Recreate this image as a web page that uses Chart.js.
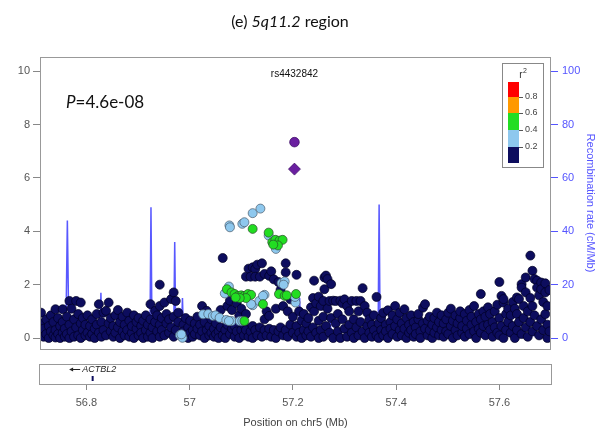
<!DOCTYPE html>
<html>
<head>
<meta charset="utf-8">
<script src="https://cdn.jsdelivr.net/npm/chart.js@4"></script>
<style>
  body { margin: 0; background: #fff; }
  canvas { display: block; }
</style>
</head>
<body>
<canvas id="main" width="601" height="360"></canvas>
<canvas id="genes" width="601" height="82"></canvas>
<script>
// axis ranges and ticks
const xRange = [56.71, 57.70];
const xTicks = [56.8, 57.0, 57.2, 57.4, 57.6];
const pRange = [-0.41, 10.53];
const pTicks = [0, 2, 4, 6, 8, 10];
const recombRange = [-4.1, 105.3];
const recombTicks = [0, 20, 40, 60, 80, 100];

// recombination rate (cM/Mb)
const recombPos = [56.710, 56.760, 56.763, 56.766, 56.826, 56.828, 56.830, 56.923, 56.925, 56.927,
  56.969, 56.971, 56.973, 56.984, 56.986, 56.988, 57.050, 57.110, 57.112, 57.114, 57.121, 57.122,
  57.124, 57.160, 57.211, 57.213, 57.215, 57.270, 57.272, 57.274, 57.347, 57.349, 57.351, 57.365,
  57.367, 57.369, 57.450, 57.550, 57.700];
const recombRate = [0.5, 0.8, 44, 0.8, 1, 17, 1, 1, 49, 1,
  1.5, 36, 2, 2, 15, 1, 0.5, 0.8, 4, 1, 1, 6,
  1, 0.6, 1, 15, 0.6, 0.5, 9, 0.5, 0.5, 10, 0.5, 0.5,
  50, 0.5, 0.8, 1, 1];

// SNPs with r2 < 0.2 : [position, -log10 p ...]
const navyCols = [
  [56.712, 0.95, 0.55, 0.2], [56.717, 0.35, 0.05], [56.722, 0.7, 0.15], [56.727, 0.45, 0.0],
  [56.731, 0.85, 0.25], [56.736, 0.6, 0.1], [56.740, 1.08, 0.3, 0.02], [56.745, 0.75, 0.15],
  [56.749, 0.45, 0.0], [56.754, 1.08, 0.6, 0.2], [56.758, 0.35, 0.05], [56.762, 0.8, 0.15],
  [56.767, 1.39, 0.5, 0.0], [56.771, 1.1, 0.25], [56.776, 0.7, 0.05], [56.780, 1.39, 0.4],
  [56.784, 0.9, 0.1], [56.789, 1.33, 0.55, 0.0], [56.793, 0.3, 0.75], [56.798, 0.1, 0.5],
  [56.802, 0.85, 0.2], [56.807, 0.05, 0.45], [56.811, 0.7, 0.15], [56.816, 0.35, 0.0],
  [56.820, 0.9, 0.5], [56.824, 1.27, 0.2], [56.829, 0.6, 0.05], [56.833, 0.95, 0.3],
  [56.838, 1.02, 0.1], [56.843, 1.33, 0.55], [56.847, 0.25, 0.75], [56.852, 0.05, 0.45],
  [56.856, 0.85, 0.2], [56.861, 1.05, 0.4], [56.865, 0.6, 0.0], [56.870, 0.25, 0.8],
  [56.874, 0.5, 0.1], [56.879, 0.95, 0.3], [56.883, 0.65, 0.05], [56.888, 0.2, 0.45],
  [56.892, 0.85, 0.0], [56.897, 0.35, 0.6], [56.901, 0.1, 0.75], [56.906, 0.45, 0.2],
  [56.910, 0.65, 0.0], [56.915, 0.3, 0.85], [56.919, 0.05, 0.5], [56.924, 1.27, 0.7, 0.2],
  [56.928, 0.4, 0.0], [56.933, 1.02, 0.6], [56.937, 0.25, 0.85], [56.942, 2.0, 1.2, 0.5, 0.05],
  [56.946, 0.75, 0.3], [56.951, 1.33, 0.1], [56.955, 0.9, 0.55], [56.960, 0.2, 0.7],
  [56.964, 1.46, 0.4], [56.969, 1.71, 0.05, 0.8], [56.973, 1.39, 0.3], [56.978, 0.95, 0.6],
  [56.988, 0.5, 0.25], [56.992, 0.75, 0.1], [56.997, 0.4, 0.0], [57.001, 0.65, 0.2],
  [57.006, 0.3, 0.05], [57.010, 0.55, 0.15], [57.015, 0.8, 0.35], [57.020, 0.1, 0.5],
  [57.024, 1.2, 0.25], [57.029, 0.0, 0.6], [57.033, 1.02, 0.3], [57.038, 0.1, 0.45],
  [57.042, 0.7, 0.2], [57.047, 0.05, 0.35], [57.051, 0.55, 0.15], [57.056, 0.25, 0.0],
  [57.060, 1.05, 0.4], [57.064, 3.0, 0.1], [57.069, 0.3, 0.0], [57.073, 1.2, 0.5],
  [57.078, 0.15, 1.4], [57.082, 0.35, 1.05], [57.087, 0.05, 0.45], [57.091, 0.25, 1.3],
  [57.096, 0.0, 0.85], [57.100, 0.3, 1.1], [57.105, 0.1, 0.5], [57.109, 0.3, 2.3, 0.9],
  [57.114, 0.05, 2.6], [57.118, 0.25, 2.3], [57.122, 2.65, 0.0, 0.45], [57.127, 2.59, 2.3, 0.3],
  [57.131, 2.75, 0.1], [57.136, 2.3, 0.4], [57.140, 2.8, 0.05], [57.145, 2.4, 0.3, 0.7],
  [57.149, 1.0, 0.1], [57.154, 2.33, 0.35, 0.83], [57.158, 2.5, 0.05], [57.163, 2.2, 0.3],
  [57.167, 1.1, 0.0], [57.172, 2.1, 0.25], [57.176, 1.8, 0.4], [57.181, 1.2, 0.1],
  [57.186, 2.8, 2.46, 0.3], [57.190, 1.0, 0.05], [57.195, 1.45, 0.5], [57.200, 0.2, 0.8],
  [57.207, 2.37, 0.05, 0.45], [57.212, 1.0, 0.2], [57.217, 0.65, 0.0], [57.221, 0.3, 0.9],
  [57.226, 0.1, 0.55], [57.230, 0.75, 0.25], [57.235, 1.15, 0.05], [57.239, 1.5, 0.4],
  [57.241, 2.15, 1.0], [57.245, 0.2, 1.3], [57.250, 1.55, 0.65, 0.0], [57.254, 1.2, 0.3],
  [57.259, 1.39, 0.8, 0.05], [57.261, 1.83, 2.27], [57.264, 2.34, 0.45], [57.267, 2.21, 1.1],
  [57.271, 1.39, 0.2], [57.274, 2.02, 0.75], [57.278, 1.4, 0.0], [57.283, 1.39, 0.55],
  [57.287, 0.9, 0.25], [57.292, 1.4, 0.0], [57.296, 1.3, 0.7], [57.300, 1.45, 0.35],
  [57.305, 1.2, 0.05], [57.309, 1.0, 0.5], [57.314, 1.39, 0.2], [57.318, 0.7, 0.0],
  [57.323, 1.39, 0.4], [57.327, 1.0, 0.1], [57.331, 1.39, 0.6], [57.335, 1.87, 0.25],
  [57.339, 1.2, 0.0], [57.344, 0.95, 0.45], [57.348, 0.2, 0.7], [57.353, 0.05, 0.5],
  [57.357, 0.85, 0.3], [57.362, 1.54, 0.1], [57.366, 0.55, 0.0], [57.371, 0.3, 0.75],
  [57.375, 0.95, 0.1], [57.380, 0.5, 0.25], [57.384, 1.04, 0.0], [57.389, 0.6, 0.35],
  [57.393, 0.85, 0.15], [57.398, 1.2, 0.45], [57.402, 0.05, 0.7], [57.407, 0.3, 0.95],
  [57.411, 0.55, 0.1], [57.416, 1.08, 0.35], [57.420, 0.75, 0.0], [57.425, 0.2, 0.5],
  [57.429, 0.85, 0.3], [57.434, 0.05, 0.6], [57.438, 0.4, 0.15], [57.443, 0.7, 0.9],
  [57.447, 0.25, 0.0], [57.452, 0.55, 1.14], [57.456, 1.27, 0.35], [57.461, 0.1, 0.65],
  [57.465, 0.8, 0.3], [57.470, 0.5, 0.0], [57.474, 0.2, 0.75], [57.479, 0.95, 0.4],
  [57.483, 0.1, 0.6], [57.488, 0.3, 0.85], [57.492, 0.55, 0.05], [57.497, 0.7, 0.25],
  [57.501, 0.15, 0.95], [57.506, 0.45, 1.1], [57.510, 0.0, 0.65], [57.515, 0.3, 0.85],
  [57.519, 0.55, 0.1], [57.524, 0.75, 1.0], [57.528, 0.2, 0.45], [57.533, 0.9, 0.05],
  [57.537, 0.35, 0.65], [57.542, 1.05, 0.15], [57.546, 0.5, 0.8], [57.551, 0.25, 1.2],
  [57.555, 0.6, 0.0], [57.560, 0.9, 0.35], [57.564, 1.65, 0.2, 0.7], [57.569, 0.45, 1.0],
  [57.573, 0.1, 0.8], [57.578, 1.15, 0.5], [57.582, 0.3, 0.9], [57.587, 0.6, 0.05],
  [57.591, 1.0, 0.4], [57.596, 0.2, 1.25], [57.600, 2.1, 0.75, 0.1], [57.604, 1.58, 0.45],
  [57.608, 1.33, 1.46, 0.0], [57.613, 0.9, 0.3], [57.617, 1.1, 0.6], [57.622, 0.2, 0.85],
  [57.626, 1.35, 0.45], [57.630, 1.1, 0.0], [57.634, 1.52, 0.9, 0.3], [57.638, 1.46, 0.6],
  [57.643, 2.02, 1.89, 0.15], [57.647, 1.2, 0.75], [57.651, 2.27, 1.71, 0.4], [57.655, 1.0, 0.05],
  [57.660, 3.09, 1.5, 0.6], [57.664, 2.52, 1.2, 0.25], [57.668, 2.21, 0.85], [57.673, 2.15, 1.89, 0.45],
  [57.677, 1.6, 0.1], [57.681, 2.08, 1.83, 0.7], [57.685, 1.35, 0.3], [57.689, 2.05, 1.71, 0.9],
  [57.693, 1.2, 0.5, 0.0], [57.697, 1.8, 0.25]
];

// r2 0.2-0.4
const skyPts = [
  [57.077, 4.22], [57.078, 4.15], [57.102, 4.28], [57.106, 4.34], [57.122, 4.68], [57.137, 4.85],
  [57.153, 3.84], [57.167, 3.34], [57.068, 1.67], [57.076, 1.93], [57.122, 1.23], [57.135, 1.39],
  [57.145, 1.62], [57.142, 1.58], [57.178, 2.06], [57.184, 2.12], [57.182, 2.0], [57.205, 1.33],
  [57.204, 1.54], [57.026, 0.89], [57.036, 0.9], [57.045, 0.83], [57.050, 0.85], [57.058, 0.76],
  [57.071, 0.68], [57.081, 0.64], [57.097, 0.64], [57.102, 0.64], [56.981, 0.11], [56.986, 0.01],
  [56.984, 0.14], [57.119, 1.27], [57.076, 0.64]
];

// r2 0.4-0.6
const greenPts = [
  [57.122, 4.09], [57.153, 3.95], [57.160, 3.59], [57.166, 3.68], [57.174, 3.65], [57.180, 3.68],
  [57.171, 3.47], [57.162, 3.50], [57.072, 1.83], [57.081, 1.71], [57.087, 1.65], [57.094, 1.58],
  [57.100, 1.60], [57.106, 1.58], [57.113, 1.65], [57.119, 1.62], [57.109, 1.50], [57.097, 1.50],
  [57.089, 1.52], [57.142, 1.27], [57.106, 0.64], [57.173, 1.65], [57.184, 1.58], [57.188, 1.60],
  [57.206, 1.65]
];

// reference SNP rs4432842
const leadCircle = [[57.203, 7.34]];
const leadDiamond = [[57.203, 6.33]];
const leadName = 'rs4432842';
const pLabel = '4.6e-08';

// r2 legend
const r2Colors = ['#ff0000', '#ff9900', '#22dd22', '#8ec8ee', '#0d0d5e'];
const r2Labels = ['0.8', '0.6', '0.4', '0.2'];

// gene track
const geneName = 'ACTBL2';
const genePos = 56.812;

const toXY = arr => arr.map(p => ({ x: p[0], y: p[1] }));
const navyPts = navyCols.flatMap(c => c.slice(1).map(y => ({ x: c[0], y: y })));
const recombData = recombPos.map((x, i) => ({ x: x, y: recombRate[i] }));

const axisFont = { family: 'Liberation Sans', size: 11 };
const blue = '#5555ff';

function setTicks(values) {
  return scale => { scale.ticks = values.map(v => ({ value: v })); };
}

const mainDecor = {
  id: 'mainDecor',
  afterDraw(chart) {
    const ctx = chart.ctx;
    const a = chart.chartArea;
    const xs = chart.scales.x, ys = chart.scales.y;
    ctx.save();
    ctx.strokeStyle = '#999';
    ctx.lineWidth = 1;
    ctx.strokeRect(a.left + 0.5, a.top + 0.5, a.right - a.left - 1, a.bottom - a.top);

    // title with italic band name
    ctx.fillStyle = '#111';
    ctx.textBaseline = 'middle';
    const parts = [['(e) ', '16px Lato'], ['5q11.2', 'italic 16px Lato'], [' region', '16px Lato']];
    let w = 0;
    parts.forEach(p => { ctx.font = p[1]; w += ctx.measureText(p[0]).width; });
    let tx = 290 - w / 2;
    parts.forEach(p => { ctx.font = p[1]; ctx.fillText(p[0], tx, 22); tx += ctx.measureText(p[0]).width; });

    // P value
    ctx.font = 'italic 17px Lato';
    ctx.fillText('P', 66, 103);
    const pw = ctx.measureText('P').width;
    ctx.font = '17px Lato';
    ctx.fillText('=' + pLabel, 66 + pw, 103);

    // lead SNP name
    ctx.font = '10px Liberation Sans';
    ctx.textAlign = 'center';
    ctx.fillText(leadName, xs.getPixelForValue(leadCircle[0][0]), ys.getPixelForValue(9.87));

    // r2 legend
    ctx.fillStyle = '#fff';
    ctx.fillRect(502, 63, 41, 104);
    ctx.strokeStyle = '#888';
    ctx.strokeRect(502.5, 63.5, 41, 104);
    ctx.fillStyle = '#333';
    ctx.font = '10px Liberation Sans';
    ctx.fillText('r', 521, 75);
    ctx.font = '7px Liberation Sans';
    ctx.fillText('2', 525, 71);
    const edges = [82, 97, 113, 130, 147, 163];
    r2Colors.forEach((c, i) => {
      ctx.fillStyle = c;
      ctx.fillRect(508, edges[i], 11, edges[i + 1] - edges[i]);
    });
    ctx.strokeStyle = '#555';
    ctx.fillStyle = '#444';
    ctx.font = '9px Liberation Sans';
    ctx.textAlign = 'left';
    r2Labels.forEach((t, i) => {
      const yy = edges[i + 1];
      ctx.beginPath();
      ctx.moveTo(519, yy + 0.5);
      ctx.lineTo(523, yy + 0.5);
      ctx.stroke();
      ctx.fillText(t, 525, yy);
    });
    ctx.restore();
  }
};

const ptStyle = (data, fill, border, order) => ({
  data: data,
  backgroundColor: fill,
  borderColor: border,
  borderWidth: 0.7,
  pointRadius: 4.5,
  yAxisID: 'y',
  order: order
});

new Chart(document.getElementById('main'), {
  type: 'scatter',
  data: {
    datasets: [
      Object.assign(ptStyle(toXY(leadCircle), '#6a1fa0', '#3a0a60', 0), { pointRadius: 4.8 }),
      Object.assign(ptStyle(toXY(leadDiamond), '#6a1fa0', '#3a0a60', 0), { pointStyle: 'rectRot', pointRadius: 6 }),
      ptStyle(toXY(greenPts), r2Colors[2], '#2a4a2a', 1),
      ptStyle(toXY(skyPts), r2Colors[3], '#4a5a6a', 2),
      ptStyle(navyPts, r2Colors[4], '#000022', 3),
      {
        data: recombData,
        yAxisID: 'y2',
        showLine: true,
        pointRadius: 0,
        borderColor: 'rgba(70,70,255,0.9)',
        borderWidth: 1.5,
        order: 4
      }
    ]
  },
  options: {
    responsive: false,
    animation: false,
    layout: { padding: { top: 57, bottom: 11, left: 0, right: 0 } },
    plugins: { legend: { display: false }, tooltip: { enabled: false } },
    scales: {
      x: { type: 'linear', min: xRange[0], max: xRange[1], display: false },
      y: {
        position: 'left', min: pRange[0], max: pRange[1],
        afterBuildTicks: setTicks(pTicks),
        afterFit: s => { s.width = 40; },
        grid: { drawOnChartArea: false, tickLength: 7, color: '#888' },
        border: { display: false },
        ticks: { color: '#555', font: axisFont, padding: 3, autoSkip: false }
      },
      y2: {
        position: 'right', min: recombRange[0], max: recombRange[1],
        afterBuildTicks: setTicks(recombTicks),
        afterFit: s => { s.width = 50; },
        grid: { drawOnChartArea: false, tickLength: 7, color: blue },
        border: { display: false },
        ticks: { color: blue, font: axisFont, padding: 4, autoSkip: false },
        title: { display: true, text: 'Recombination rate (cM/Mb)', color: blue, font: axisFont, padding: 4 }
      }
    }
  },
  plugins: [mainDecor]
});

const geneDecor = {
  id: 'geneDecor',
  afterDraw(chart) {
    const ctx = chart.ctx;
    const a = chart.chartArea;
    const gx = chart.scales.x.getPixelForValue(genePos);
    ctx.save();
    ctx.strokeStyle = '#999';
    ctx.lineWidth = 1;
    ctx.strokeRect(a.left - 0.5, a.top + 0.5, a.right - a.left + 1, a.bottom - a.top);
    ctx.font = 'italic 9px Liberation Sans';
    const tw = ctx.measureText(geneName).width;
    const start = gx - (tw + 13) / 2;
    const ay = a.top + 5.5;
    ctx.strokeStyle = '#222';
    ctx.fillStyle = '#222';
    ctx.beginPath();
    ctx.moveTo(start + 11, ay);
    ctx.lineTo(start + 2, ay);
    ctx.stroke();
    ctx.beginPath();
    ctx.moveTo(start, ay);
    ctx.lineTo(start + 4, ay - 2);
    ctx.lineTo(start + 4, ay + 2);
    ctx.closePath();
    ctx.fill();
    ctx.textBaseline = 'middle';
    ctx.fillText(geneName, start + 13, ay);
    ctx.restore();
  }
};

new Chart(document.getElementById('genes'), {
  type: 'scatter',
  data: {
    datasets: [{
      data: [{ x: genePos, y: 0.15 }, { x: genePos, y: 0.4 }],
      showLine: true,
      pointRadius: 0,
      borderColor: '#0d0d5e',
      borderWidth: 2
    }]
  },
  options: {
    responsive: false,
    animation: false,
    layout: { padding: { top: 4, bottom: 8, left: 40, right: 50 } },
    plugins: { legend: { display: false }, tooltip: { enabled: false } },
    scales: {
      x: {
        type: 'linear', min: xRange[0], max: xRange[1],
        afterBuildTicks: setTicks(xTicks),
        afterFit: s => { s.height = 50; },
        grid: { drawOnChartArea: false, tickLength: 6, color: '#888' },
        border: { display: false },
        ticks: {
          color: '#555', font: axisFont, padding: 6, autoSkip: false, maxRotation: 0,
          callback: v => String(Math.round(v * 10) / 10)
        },
        title: { display: true, text: 'Position on chr5 (Mb)', color: '#444', font: axisFont, padding: 4 }
      },
      y: { display: false, min: 0, max: 1 }
    }
  },
  plugins: [geneDecor]
});
</script>
</body>
</html>
